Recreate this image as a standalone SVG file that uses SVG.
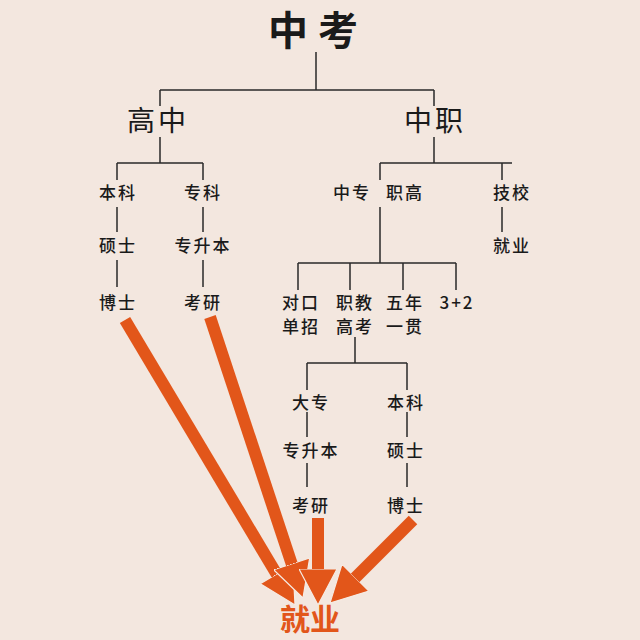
<svg xmlns="http://www.w3.org/2000/svg" width="640" height="640" viewBox="0 0 640 640">
<defs>
<style>
.t{font-family:"Noto Sans CJK SC","Noto Sans",sans-serif;fill:#1a1a1a;text-anchor:middle}
.s{font-size:17px;letter-spacing:2px;font-weight:500}
.m{font-size:28px;letter-spacing:3px}
.l{stroke:#2a2a2a;stroke-width:1.5;fill:none}
.a{stroke:#e2561a;stroke-width:12;fill:none;marker-end:url(#ah)}
</style>
<marker id="ah" viewBox="0 0 36 38" markerWidth="36" markerHeight="38" markerUnits="userSpaceOnUse" refX="2" refY="19" orient="auto">
<path d="M0,0 L36,19 L0,38 z" fill="#e2561a" stroke="#f6ebe3" stroke-width="1.2"/>
</marker>
</defs>
<rect width="640" height="640" fill="#f3e7df"/>
<g id="connectors">
<path class="l" d="M316,52 V90 M160,90 H434 M160,90 V106 M434,90 V106"/>
<path class="l" d="M160,137 V163 M117,163 H203 M117,163 V180 M203,163 V180"/>
<path class="l" d="M434,137 V163 M380,163 H512 M380,163 V180 M502,163 V180"/>
<path class="l" d="M117,207 V232 M117,260 V287 M203,207 V232 M203,260 V287 M502,207 V232"/>
<path class="l" d="M380,207 V263 M298,263 H456 M298,263 V290 M350,263 V290 M403,263 V290 M456,263 V290"/>
<path class="l" d="M355,337 V363 M307,363 H407 M307,363 V390 M407,363 V390"/>
<path class="l" d="M307,412 V437 M307,463 V487 M407,412 V437 M407,463 V487"/>
<line class="a" x1="125" y1="320" x2="277.6" y2="575.8"/>
<line class="a" x1="210" y1="317" x2="292.3" y2="565.7"/>
<line class="a" x1="318" y1="518" x2="318" y2="571"/>
<line class="a" x1="413" y1="520" x2="354" y2="579"/>
</g>
<g id="n-zhongkao"><text class="t" x="318" y="45" font-size="40" font-weight="700" letter-spacing="10">中考</text></g>
<g id="n-gaozhong"><text class="t m" x="158" y="131">高中</text></g>
<g id="n-zhongzhi"><text class="t m" x="435" y="131">中职</text></g>
<g id="n-benke1"><text class="t s" x="118" y="199">本科</text></g>
<g id="n-zhuanke"><text class="t s" x="203" y="199">专科</text></g>
<g id="n-zhongzhuan"><text class="t s" x="352" y="199">中专</text></g>
<g id="n-zhigao"><text class="t s" x="405" y="199">职高</text></g>
<g id="n-jixiao"><text class="t s" x="512" y="199">技校</text></g>
<g id="n-shuoshi1"><text class="t s" x="118" y="252">硕士</text></g>
<g id="n-zsb1"><text class="t s" x="203" y="252">专升本</text></g>
<g id="n-jiuye1"><text class="t s" x="512" y="252">就业</text></g>
<g id="n-boshi1"><text class="t s" x="118" y="309">博士</text></g>
<g id="n-kaoyan1"><text class="t s" x="203" y="309">考研</text></g>
<g id="n-duikou"><text class="t s" x="301" y="309">对口</text><text class="t s" x="301" y="333">单招</text></g>
<g id="n-zhijiao"><text class="t s" x="355" y="309">职教</text><text class="t s" x="355" y="333">高考</text></g>
<g id="n-wunian"><text class="t s" x="405" y="309">五年</text><text class="t s" x="405" y="333">一贯</text></g>
<g id="n-32"><text class="t s" x="457" y="309">3+2</text></g>
<g id="n-dazhuan"><text class="t s" x="311" y="409">大专</text></g>
<g id="n-benke2"><text class="t s" x="406" y="409">本科</text></g>
<g id="n-zsb2"><text class="t s" x="311" y="457">专升本</text></g>
<g id="n-shuoshi2"><text class="t s" x="406" y="457">硕士</text></g>
<g id="n-kaoyan2"><text class="t s" x="311" y="512">考研</text></g>
<g id="n-boshi2"><text class="t s" x="406" y="512">博士</text></g>
<g id="n-jiuye"><text class="t" x="310" y="630" font-size="30" font-weight="700" style="fill:#e2561a">就业</text></g>
</svg>
